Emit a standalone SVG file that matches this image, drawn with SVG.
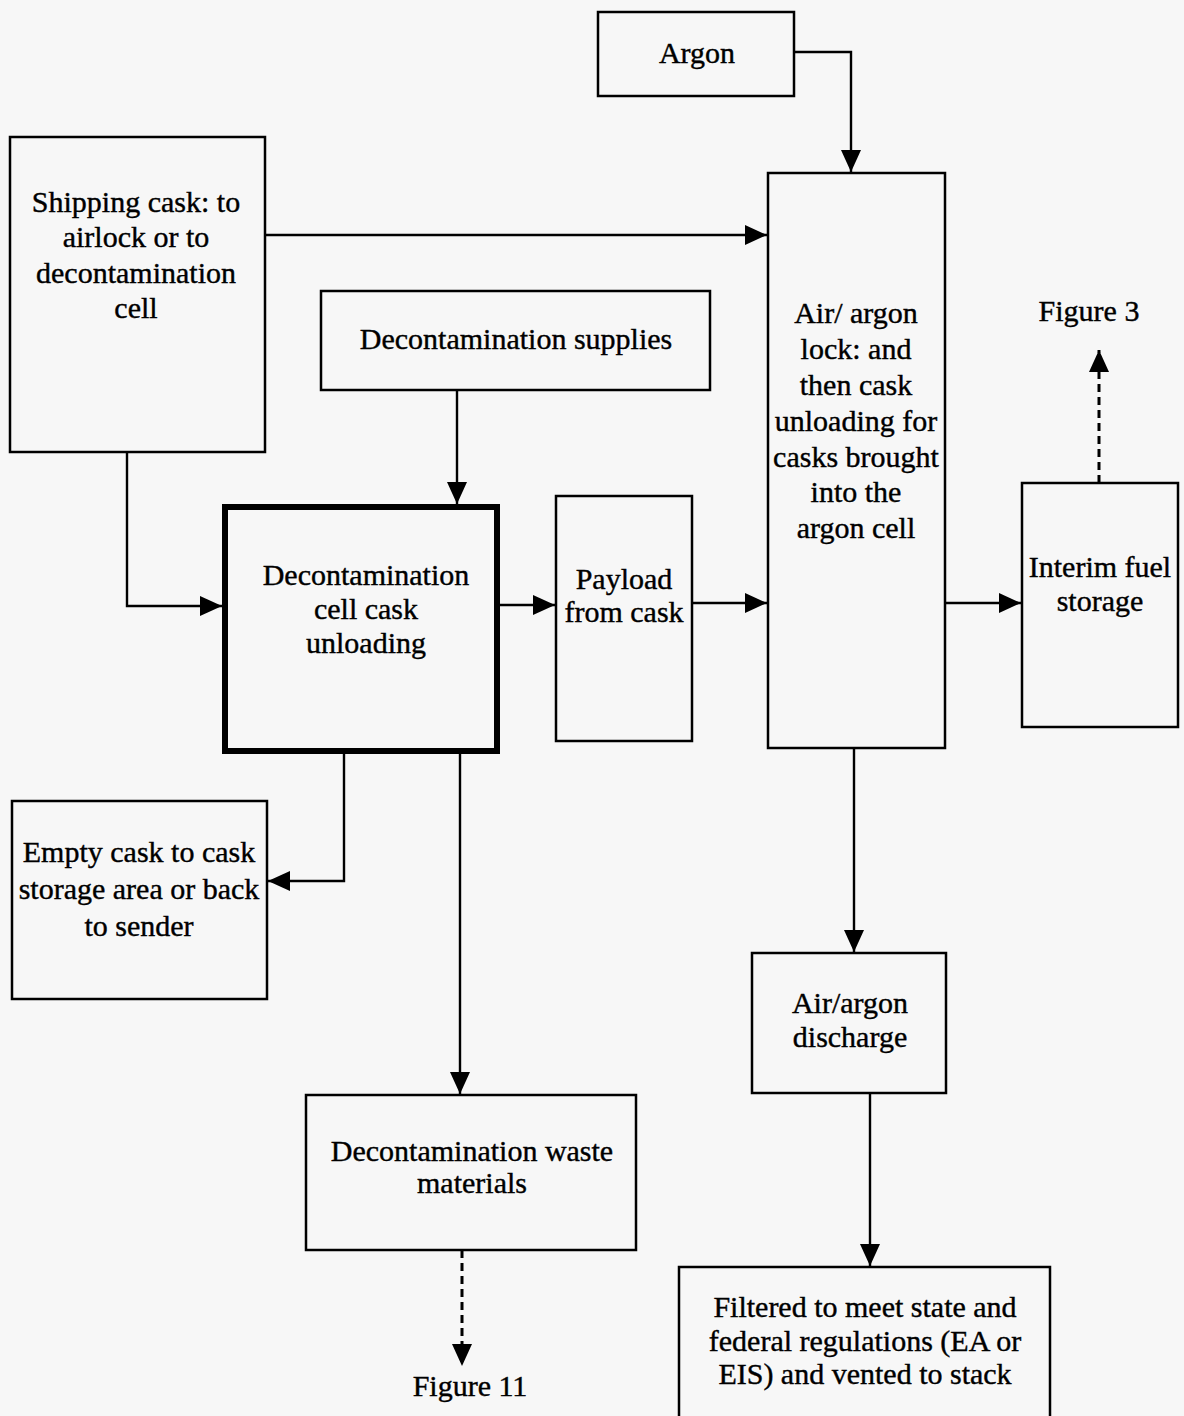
<svg xmlns="http://www.w3.org/2000/svg" width="1184" height="1416" viewBox="0 0 1184 1416">
  <defs>
    <marker id="arrow" markerUnits="userSpaceOnUse" markerWidth="24" markerHeight="22" refX="22" refY="10" orient="auto">
      <path d="M0,0 L22,10 L0,20 z" fill="#000"/>
    </marker>
    <style>
      .box { fill: none; stroke: #000; stroke-width: 2.5; }
      .heavy { fill: none; stroke: #000; stroke-width: 6; }
      .link { fill: none; stroke: #000; stroke-width: 2.4; marker-end: url(#arrow); }
      .dash { fill: none; stroke: #000; stroke-width: 3; stroke-dasharray: 8 5; marker-end: url(#arrow); }
      text { font-family: "Liberation Serif", "Times New Roman", serif; font-size: 30px; fill: #000; stroke: #000; stroke-width: 0.4; text-anchor: middle; }
    </style>
  </defs>
  <rect width="1184" height="1416" fill="#f7f7f7"/>

  <!-- connectors -->
  <g id="connectors">
    <path class="link" d="M794,52 H851 V172"/>
    <path class="link" d="M265,235 H767"/>
    <path class="link" d="M127,452 V606 H222"/>
    <path class="link" d="M457,390 V504"/>
    <path class="link" d="M499,605 H555"/>
    <path class="link" d="M692,603 H767"/>
    <path class="link" d="M945,603 H1021"/>
    <path class="dash" d="M1099,483 V350"/>
    <path class="link" d="M854,748 V952"/>
    <path class="link" d="M870,1093 V1266"/>
    <path class="link" d="M344,753 V881 H268"/>
    <path class="link" d="M460,753 V1094"/>
    <path class="dash" d="M462,1250 V1366"/>
  </g>

  <g id="argon">
    <rect class="box" x="598" y="12" width="196" height="84"/>
    <text x="697" y="63">Argon</text>
  </g>

  <g id="shipping-cask">
    <rect class="box" x="10" y="137" width="255" height="315"/>
    <text x="136" y="212">Shipping cask: to</text>
    <text x="136" y="247">airlock or to</text>
    <text x="136" y="283">decontamination</text>
    <text x="136" y="318">cell</text>
  </g>

  <g id="decon-supplies">
    <rect class="box" x="321" y="291" width="389" height="99"/>
    <text x="516" y="349">Decontamination supplies</text>
  </g>

  <g id="airlock">
    <rect class="box" x="768" y="173" width="177" height="575"/>
    <text x="856" y="323">Air/ argon</text>
    <text x="856" y="359">lock: and</text>
    <text x="856" y="395">then cask</text>
    <text x="856" y="431">unloading for</text>
    <text x="856" y="467">casks brought</text>
    <text x="856" y="502">into the</text>
    <text x="856" y="538">argon cell</text>
  </g>

  <g id="figure-3">
    <text x="1089" y="321">Figure 3</text>
  </g>

  <g id="decon-cell">
    <rect class="heavy" x="225" y="507" width="272" height="244"/>
    <text x="366" y="585">Decontamination</text>
    <text x="366" y="619">cell cask</text>
    <text x="366" y="653">unloading</text>
  </g>

  <g id="payload">
    <rect class="box" x="556" y="496" width="136" height="245"/>
    <text x="624" y="589">Payload</text>
    <text x="624" y="622">from cask</text>
  </g>

  <g id="interim-storage">
    <rect class="box" x="1022" y="483" width="156" height="244"/>
    <text x="1100" y="577">Interim fuel</text>
    <text x="1100" y="611">storage</text>
  </g>

  <g id="empty-cask">
    <rect class="box" x="12" y="801" width="255" height="198"/>
    <text x="139" y="862">Empty cask to cask</text>
    <text x="139" y="899">storage area or back</text>
    <text x="139" y="936">to sender</text>
  </g>

  <g id="discharge">
    <rect class="box" x="752" y="953" width="194" height="140"/>
    <text x="850" y="1013">Air/argon</text>
    <text x="850" y="1047">discharge</text>
  </g>

  <g id="waste">
    <rect class="box" x="306" y="1095" width="330" height="155"/>
    <text x="472" y="1161">Decontamination waste</text>
    <text x="472" y="1193">materials</text>
  </g>

  <g id="figure-11">
    <text x="470" y="1396">Figure 11</text>
  </g>

  <g id="filtered">
    <rect class="box" x="679" y="1267" width="371" height="160"/>
    <text x="865" y="1317">Filtered to meet state and</text>
    <text x="865" y="1351">federal regulations (EA or</text>
    <text x="865" y="1384">EIS) and vented to stack</text>
  </g>
</svg>
